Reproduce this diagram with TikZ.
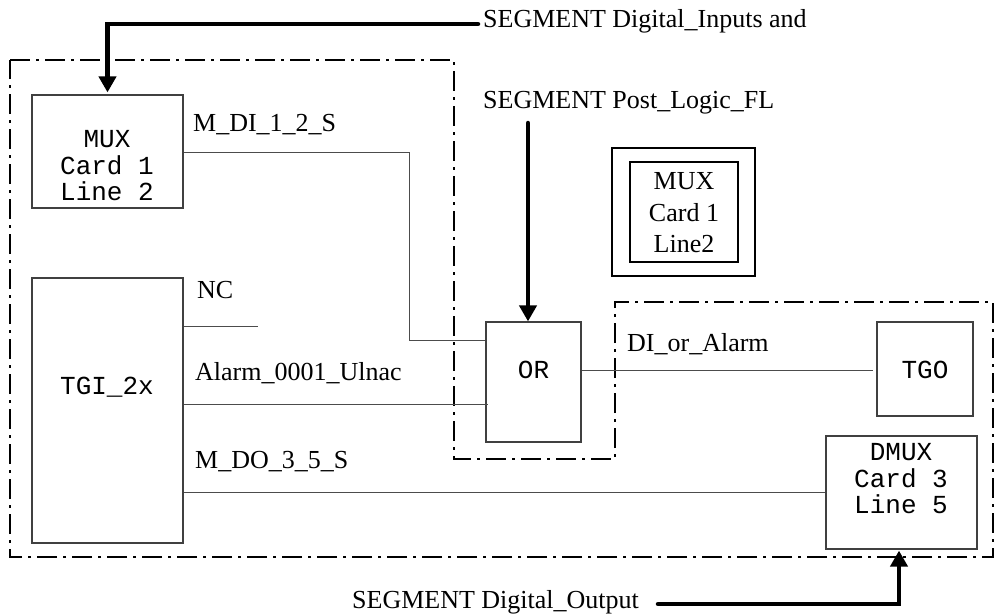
\documentclass[tikz,border=0pt]{standalone}
\usepackage{fontspec}
\setmainfont{Liberation Serif}
\setmonofont{Liberation Mono}
\usetikzlibrary{arrows.meta}

\tikzset{
  serif/.style={font=\fontsize{26}{31.5}\selectfont, inner sep=0pt},
  mono/.style={font=\ttfamily\fontsize{26}{26.5}\selectfont, inner sep=0pt, align=center},
  box/.style={draw=black!75, line width=1.2pt, inner sep=0pt, rectangle},
  framebox/.style={draw=black, line width=1.5pt, inner sep=0pt, rectangle},
  wire/.style={draw=black!70, line width=1pt},
  segline/.style={draw=black, line width=4.5pt, line cap=round,
    -{Triangle[length=16pt,width=17pt]}},
  zone/.style={draw=black, line width=2pt,
    dash pattern=on 20pt off 6pt on 3pt off 6pt}
}

\begin{document}
\begin{tikzpicture}[x=1pt,y=-1pt]
  \useasboundingbox (0,0) rectangle (996,614);

  % segment boundary (dash-dot outline)
  \draw[zone] (10,60) -- (454,60) -- (454,459) -- (615,459) -- (615,302)
    -- (993,302) -- (993,557) -- (10,557) -- cycle;

  % blocks
  \node[box, minimum width=151pt, minimum height=113pt] (mux) at (107.5,151.5) {};
  \node[mono] (muxtxt) at (107,166) {MUX\\Card 1\\Line 2};

  \node[box, minimum width=151pt, minimum height=265pt] (tgi) at (107.5,410.5) {};
  \node[mono, anchor=base] (tgitxt) at (107,394) {TGI\_2x};

  \node[box, minimum width=95pt, minimum height=120pt] (or) at (533.5,382) {};
  \node[mono, anchor=base] (ortxt) at (533.5,378) {OR};

  \node[box, minimum width=96pt, minimum height=94pt] (tgo) at (925,369) {};
  \node[mono, anchor=base] (tgotxt) at (925,378) {TGO};

  \node[box, minimum width=151pt, minimum height=113pt] (dmux) at (901.5,492.5) {};
  \node[mono] (dmuxtxt) at (901,479) {DMUX\\Card 3\\Line 5};

  % framed legend block
  \node[framebox, minimum width=143pt, minimum height=128pt] (legout) at (683.5,212) {};
  \node[framebox, minimum width=108pt, minimum height=100pt] (legin) at (684,212) {};
  \node[serif, align=center] (legtxt) at (684,213) {MUX\\Card 1\\Line2};

  % signal labels
  \node[serif, anchor=base west] (lbldi) at (193,131) {M\_DI\_1\_2\_S};
  \node[serif, anchor=base west] (lblnc) at (197,298) {NC};
  \node[serif, anchor=base west] (lblal) at (195,380) {Alarm\_0001\_Ulnac};
  \node[serif, anchor=base west] (lbldo) at (195,468) {M\_DO\_3\_5\_S};
  \node[serif, anchor=base west] (lblor) at (627,351) {DI\_or\_Alarm};

  % segment labels
  \node[serif, anchor=base west] (seginp) at (483,27) {SEGMENT Digital\_Inputs and};
  \node[serif, anchor=base west] (segpost) at (483,108) {SEGMENT Post\_Logic\_FL};
  \node[serif, anchor=base west] (segout) at (352,608) {SEGMENT Digital\_Output};

  % wires
  \coordinate (dia) at (409,152);
  \coordinate (dib) at (409,340);
  \draw[wire] (dia -| mux.east) -- (dia) -- (dib) -- (dib -| or.west);

  \coordinate (ncend) at (258,326);
  \draw[wire] (ncend -| tgi.east) -- (ncend);

  \coordinate (alm) at (488,404);
  \draw[wire] (alm -| tgi.east) -- (alm);

  \draw[wire] (dmux.west -| tgi.east) -- (dmux.west);

  \coordinate (dio) at (0,370);
  \draw[wire] (dio -| or.east) -- ([xshift=-3pt]dio -| tgo.west);

  % segment connections
  \coordinate (inpend) at (478,24);
  \draw[segline, shorten >=2pt] (inpend) -| (mux.north);

  \coordinate (posttop) at (528,123);
  \draw[segline] (posttop) -- (posttop |- or.north);

  \coordinate (outend) at (658,604);
  \draw[segline, shorten >=1pt] (outend) -| ([xshift=-2.5pt]dmux.south);
\end{tikzpicture}
\end{document}
